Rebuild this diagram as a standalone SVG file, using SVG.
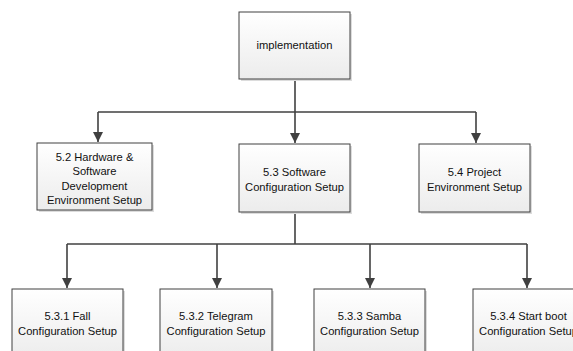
<svg xmlns="http://www.w3.org/2000/svg" width="573" height="351" viewBox="0 0 573 351">
  <style>
    .box { fill: url(#boxFill); stroke: #404040; stroke-width: 1; }
    .shadow { fill: #dcdcdc; }
    .lbl { font-family: "Liberation Sans", Arial, sans-serif; font-size: 11.2px; fill: #111111; text-anchor: middle; }
    .wire { fill: none; stroke: #404040; stroke-width: 1.6; }
  </style>
  <defs>
    <linearGradient id="boxFill" x1="0" y1="0" x2="0" y2="1">
      <stop offset="0" stop-color="#ffffff"/>
      <stop offset="1" stop-color="#ececec"/>
    </linearGradient>
    <marker id="arrow" viewBox="0 0 10 10" refX="10" refY="5" markerWidth="10" markerHeight="10" markerUnits="userSpaceOnUse" orient="auto">
      <path d="M0,0 L10,5 L0,10 Z" fill="#404040"/>
    </marker>
  </defs>
  <rect width="573" height="351" fill="#ffffff"/>

  <g id="connectors">
    <line class="wire" x1="295" y1="79" x2="295" y2="112"/>
    <path class="wire" d="M98,112 H476"/>
    <line class="wire" x1="98" y1="112" x2="98" y2="142" marker-end="url(#arrow)"/>
    <line class="wire" x1="295" y1="112" x2="295" y2="143" marker-end="url(#arrow)"/>
    <line class="wire" x1="476" y1="112" x2="476" y2="143" marker-end="url(#arrow)"/>
    <line class="wire" x1="295" y1="212" x2="295" y2="244"/>
    <path class="wire" d="M67,244 H527"/>
    <line class="wire" x1="67" y1="244" x2="67" y2="288" marker-end="url(#arrow)"/>
    <line class="wire" x1="217" y1="244" x2="217" y2="288" marker-end="url(#arrow)"/>
    <line class="wire" x1="370" y1="244" x2="370" y2="288" marker-end="url(#arrow)"/>
    <line class="wire" x1="527" y1="244" x2="527" y2="288" marker-end="url(#arrow)"/>
  </g>

  <g id="implementation">
    <rect class="shadow" x="241" y="14" width="111" height="67"/>
    <rect class="box" x="239" y="12" width="111" height="67"/>
    <text class="lbl" x="294.5" y="49">implementation</text>
  </g>

  <g id="hw-sw-dev-env">
    <rect class="shadow" x="39" y="145" width="115" height="67"/>
    <rect class="box" x="37" y="143" width="115" height="67"/>
    <text class="lbl" x="94.5" y="161">5.2 Hardware &amp;</text>
    <text class="lbl" x="94.5" y="175">Software</text>
    <text class="lbl" x="94.5" y="190">Development</text>
    <text class="lbl" x="94.5" y="204">Environment Setup</text>
  </g>

  <g id="sw-config">
    <rect class="shadow" x="241" y="146" width="111" height="68"/>
    <rect class="box" x="239" y="144" width="111" height="68"/>
    <text class="lbl" x="294.5" y="176">5.3 Software</text>
    <text class="lbl" x="294.5" y="191">Configuration Setup</text>
  </g>

  <g id="project-env">
    <rect class="shadow" x="421" y="146" width="111" height="68"/>
    <rect class="box" x="419" y="144" width="111" height="68"/>
    <text class="lbl" x="474.5" y="176">5.4 Project</text>
    <text class="lbl" x="474.5" y="191">Environment Setup</text>
  </g>

  <g id="fall-config">
    <rect class="shadow" x="14" y="291" width="111" height="70"/>
    <rect class="box" x="12" y="289" width="111" height="70"/>
    <text class="lbl" x="67.5" y="320">5.3.1 Fall</text>
    <text class="lbl" x="67.5" y="335">Configuration Setup</text>
  </g>

  <g id="telegram-config">
    <rect class="shadow" x="162" y="291" width="112" height="70"/>
    <rect class="box" x="160" y="289" width="112" height="70"/>
    <text class="lbl" x="216" y="320">5.3.2 Telegram</text>
    <text class="lbl" x="216" y="335">Configuration Setup</text>
  </g>

  <g id="samba-config">
    <rect class="shadow" x="316" y="291" width="111" height="70"/>
    <rect class="box" x="314" y="289" width="111" height="70"/>
    <text class="lbl" x="369.5" y="320">5.3.3 Samba</text>
    <text class="lbl" x="369.5" y="335">Configuration Setup</text>
  </g>

  <!-- this box runs past the right edge of the canvas, so its label is cut there -->
  <g id="startboot-config">
    <rect class="shadow" x="475" y="291" width="111" height="70"/>
    <rect class="box" x="473" y="289" width="111" height="70"/>
    <text class="lbl" x="528.5" y="320">5.3.4 Start boot</text>
    <text class="lbl" x="528.5" y="335">Configuration Setup</text>
  </g>
</svg>
